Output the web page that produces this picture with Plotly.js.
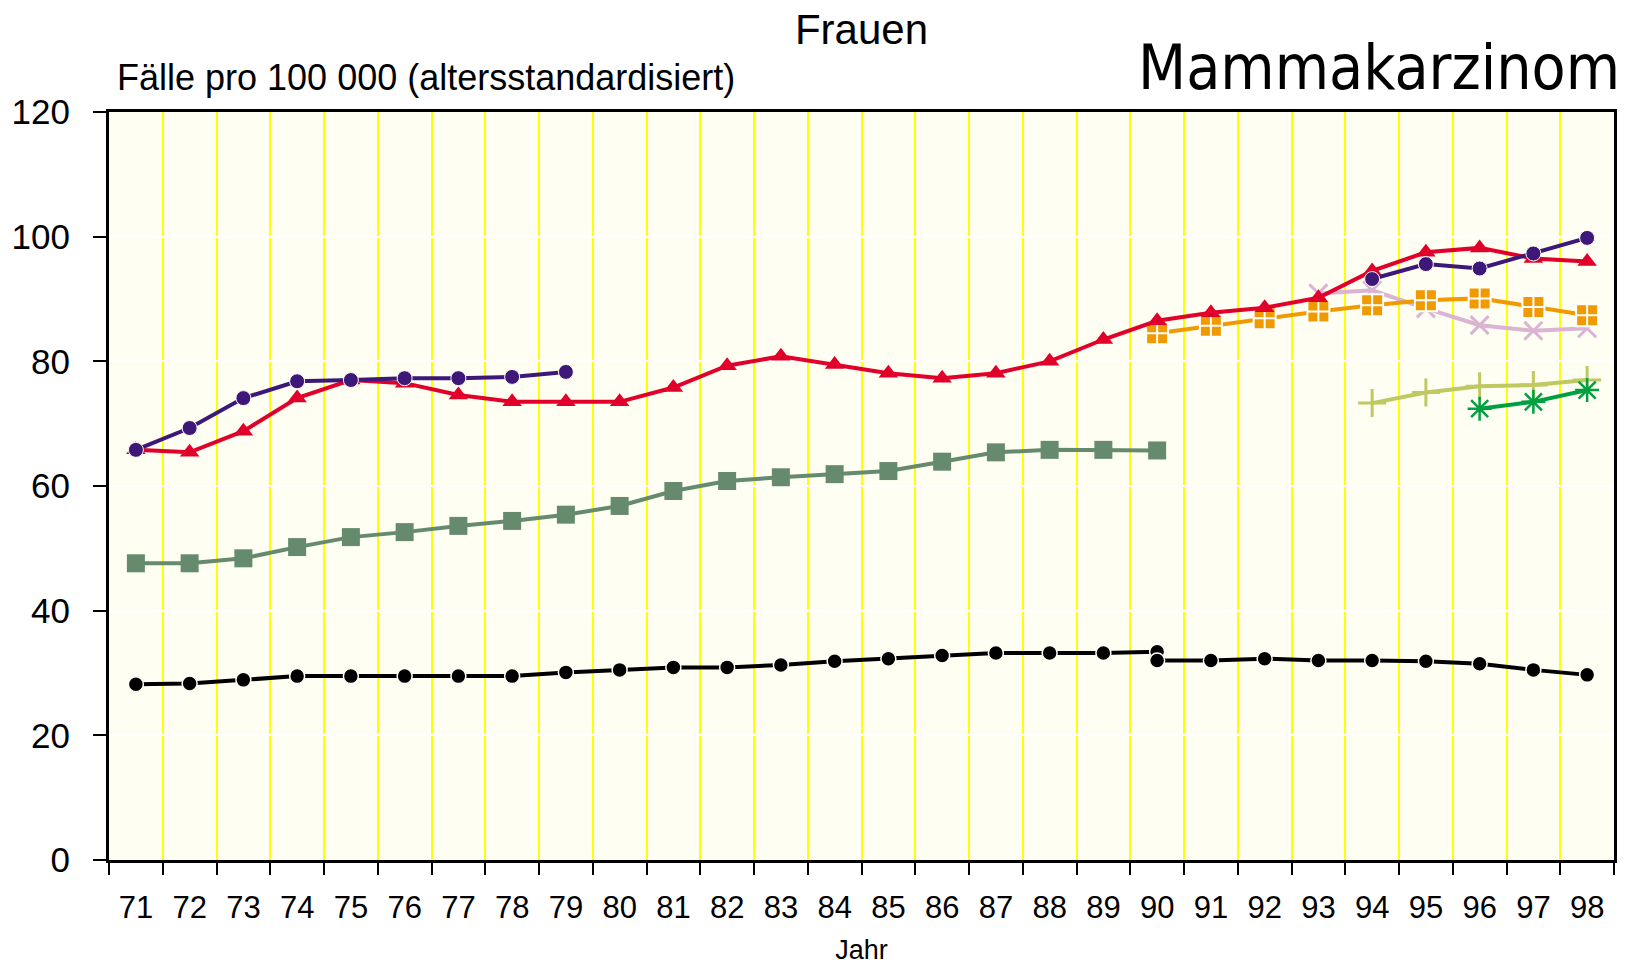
<!DOCTYPE html>
<html><head><meta charset="utf-8">
<script src="https://cdn.plot.ly/plotly-3.0.1.min.js"></script>
<style>body{margin:0;background:#fff}#chart{width:1630px;height:965px}</style>
</head><body><div id="chart"></div>
<script>
const years = ['71','72','73','74','75','76','77','78','79','80','81','82','83','84','85','86','87','88','89','90','91','92','93','94','95','96','97','98'];

const blackAYears = years.slice(0, 20);           // 71-90
const blackA = [28.2,28.3,28.9,29.5,29.5,29.5,29.5,29.5,30.1,30.5,30.9,30.9,31.3,31.9,32.3,32.8,33.2,33.2,33.2,33.4];
const blackBYears = years.slice(19);              // 90-98
const blackB = [32.0,32.0,32.3,32.0,32.0,31.9,31.5,30.5,29.7];

const greenSqYears = years.slice(0, 20);          // 71-90
const greenSq = [47.6,47.6,48.4,50.2,51.8,52.6,53.6,54.4,55.4,56.8,59.2,60.8,61.4,61.9,62.4,63.9,65.4,65.8,65.8,65.7];

const redYears = years;                           // 71-98
const red = [65.8,65.4,68.8,74.1,77.0,76.5,74.6,73.5,73.5,73.5,75.8,79.3,80.8,79.5,78.1,77.3,78.1,80.0,83.5,86.5,87.8,88.6,90.2,94.5,97.5,98.2,96.5,96.0];

const purpleAYears = years.slice(0, 9);           // 71-79
const purpleA = [65.8,69.3,74.1,76.8,77.0,77.3,77.3,77.5,78.3];
const purpleBYears = years.slice(23);             // 94-98
const purpleB = [93.2,95.6,94.9,97.3,99.8];

const orangeYears = years.slice(19);              // 90-98
const orange = [84.5,85.7,86.9,88.0,89.0,89.8,90.1,88.7,87.4];

const pinkYears = years.slice(22);                // 93-98
const pink = [90.9,91.4,88.5,85.8,84.9,85.3];

const oliveYears = years.slice(23);               // 94-98
const olive = [73.3,75.0,76.0,76.2,77.0];

const greenStarYears = years.slice(25);           // 96-98
const greenStar = [72.4,73.5,75.4];

const yTicks = [0,20,40,60,80,100,120];

function tr(x, y, color, symbol, size, extra) {
  const t = {
    type: 'scatter', mode: 'lines+markers', x: x, y: y,
    line: {color: color, width: 4},
    marker: {color: color, symbol: symbol, size: size},
    showlegend: false, hoverinfo: 'skip'
  };
  if (extra) Object.assign(t.marker, extra);
  return t;
}

const data = [
  tr(greenSqYears, greenSq, '#668a6e', 'square', 18),
  tr(blackAYears, blackA, '#000000', 'circle', 15, {line:{color:'#fffff5', width:1.5}}),
  tr(blackBYears, blackB, '#000000', 'circle', 15, {line:{color:'#fffff5', width:1.5}}),
  tr(pinkYears, pink, '#dab4d2', 'x-thin-open', 18, {line:{color:'#dab4d2', width:3}}),
  tr(oliveYears, olive, '#c0c862', 'cross-thin-open', 20, {line:{color:'#c0c862', width:3}}),
  tr(greenStarYears, greenStar, '#00a040', 'asterisk-open', 20, {line:{color:'#00a040', width:2.5}}),
  tr(orangeYears, orange, '#f09a00', 'square-cross', 22, {line:{color:'#ffffff', width:2}}),
  tr(redYears, red, '#e0002a', 'triangle-up', 17),
  tr(purpleAYears, purpleA, '#3d1878', 'circle', 15, {line:{color:'#fffff5', width:1}}),
  tr(purpleBYears, purpleB, '#3d1878', 'circle', 15, {line:{color:'#fffff5', width:1}})
];

const layout = {
  width: 1630, height: 965,
  margin: {l: 109, r: 16, t: 112, b: 105},
  paper_bgcolor: '#ffffff',
  plot_bgcolor: '#fefef3',
  xaxis: {
    type: 'category', categoryorder: 'array', categoryarray: years,
    range: [-0.5, 27.5],
    tickson: 'boundaries', ticks: 'outside', ticklen: 12, tickwidth: 2, tickcolor: '#000',
    showgrid: true, gridcolor: '#ffff00', gridwidth: 2,
    showline: true, linecolor: '#000', linewidth: 3, mirror: true,
    tickfont: {family: '"Liberation Sans", Arial, sans-serif', size: 31, color: '#000'},
    ticklabelstandoff: 18,
    title: {text: 'Jahr', font: {family: '"Liberation Sans", Arial, sans-serif', size: 27, color: '#000'}, standoff: 16},
    zeroline: false, fixedrange: true
  },
  yaxis: {
    range: [0, 120], tickvals: yTicks, ticktext: yTicks.map(String),
    ticks: 'outside', ticklen: 13, tickwidth: 2, tickcolor: '#000',
    showgrid: true, gridcolor: '#ffffff', gridwidth: 2,
    showline: true, linecolor: '#000', linewidth: 3, mirror: true,
    tickfont: {family: '"Liberation Sans", Arial, sans-serif', size: 35, color: '#000'},
    ticklabelstandoff: 16,
    zeroline: false, fixedrange: true
  },
  title: {
    text: 'Frauen', x: 0.5, xref: 'paper', xanchor: 'center',
    y: 0.985, yref: 'container', yanchor: 'top',
    font: {family: '"Liberation Sans", Arial, sans-serif', size: 42, color: '#000'}
  },
  annotations: [
    {text: 'Fälle pro 100 000 (altersstandardisiert)', xref: 'paper', yref: 'paper',
     x: 0.004, y: 1.0, xanchor: 'left', yanchor: 'bottom', yshift: 12, showarrow: false,
     font: {family: '"Liberation Sans", Arial, sans-serif', size: 36, color: '#000'}},
    {text: 'Mammakarzinom', xref: 'paper', yref: 'paper',
     x: 1.005, y: 1.0, xanchor: 'right', yanchor: 'bottom', yshift: 6, showarrow: false,
     font: {family: '"DejaVu Sans Condensed", "DejaVu Sans", Verdana, sans-serif', size: 62, color: '#000'}}
  ]
};

Plotly.newPlot('chart', data, layout, {staticPlot: true, displayModeBar: false});
</script>
</body></html>
